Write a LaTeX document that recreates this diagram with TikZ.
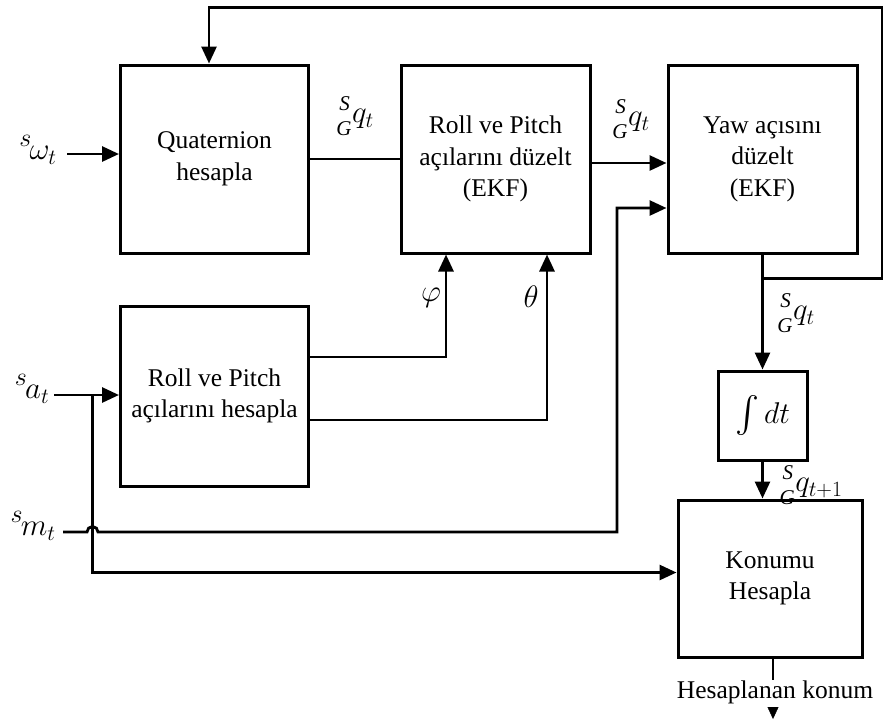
\RequirePackage{fix-cm}
\documentclass[tikz,border=0pt]{standalone}
\usepackage{exscale}
\usepackage{graphicx}
\usepackage{fontspec}
\setmainfont{Liberation Serif}
\usetikzlibrary{arrows.meta}
\newcommand\sgq[1]{{\fontsize{21}{21}\selectfont\itshape\rlap{\kern0.15em\raisebox{0.6em}{S}}\raisebox{-0.6em}{G}}\kern0.02em$q_{#1}$}
\newcommand\inp[1]{$\raisebox{0.42em}{\fontsize{26}{26}\selectfont$s$}\mkern-1mu#1$}
\begin{document}
\begin{tikzpicture}[x=1pt,y=-1pt,
  blk/.style={draw,line width=3pt,minimum width=188pt,minimum height=188pt,align=center,inner sep=0pt,font=\fontsize{25.5}{31.5}\selectfont},
  wire/.style={line width=2.8pt},
  arr/.style={wire,-{Triangle[length=17pt,width=15pt]}},
  lbl/.style={inner sep=0pt,font=\fontsize{25.5}{31}\selectfont},
  mlbl/.style={inner sep=0pt,font=\fontsize{31}{35}\selectfont}]
\useasboundingbox (0,0) rectangle (884,724);
% blocks
\node[blk] (quat) at (214.5,159) {Quaternion\\hesapla};
\node[blk,minimum width=189pt] (rpekf) at (495.5,159) {Roll ve Pitch\\açılarını düzelt\\(EKF)};
\node[blk,minimum width=189pt] (yaw) at (762.5,159) {Yaw açısını\\düzelt\\(EKF)};
\node[blk,minimum height=180pt] (rph) at (214.5,396) {Roll ve Pitch\\açılarını hesapla};
\node[blk,minimum width=89pt,minimum height=89pt,font=\fontsize{30}{34}\selectfont] (integ) at (762.5,415.5) {$\vcenter{\hbox{\scalebox{1.45}{$\int$}}}\,dt$};
\node[blk,minimum width=184pt,minimum height=157pt] (konum) at (770,578.5) {Konumu\\Hesapla};
% inputs
\coordinate (sw) at (67,154);
\coordinate (sa) at (54,395);
\coordinate (br) at (92.5,395);
\coordinate (sm) at (63,532);
\node[mlbl] (lw) at (38,150) {\inp{\omega_{t}}};
\node[mlbl] (la) at (32,389) {\inp{a_{t}}};
\node[mlbl] (lm) at (33,526) {\inp{m_{t}}};
\draw[arr] (sw) -- (sw -| quat.west);
\draw[arr] (sa) -- (sa -| rph.west);
\draw[arr] (br) |- ([yshift=6pt]konum.west);
\draw[arr] (sm) -- (87,532) arc[start angle=180,end angle=0,radius=5.5pt] -- (617,532) |- ([yshift=-49pt]yaw.west);
% main chain
\draw[wire] (quat.east) -- (rpekf.west);
\draw[arr] ([yshift=-4pt]rpekf.east) -- ([yshift=-4pt]yaw.west);
\draw[arr] ([yshift=39pt]rph.east) -| ([xshift=-49.5pt]rpekf.south);
\draw[arr] ([yshift=-24pt]rph.east) -| ([xshift=51.5pt]rpekf.south);
\draw[arr] (yaw.south) -- (integ.north);
\draw[arr] ([yshift=-24pt]yaw.south) -- ++(119.5,0) -- ++(0,-271) -| ([xshift=-5.5pt]quat.north);
\draw[arr] (integ.south) -- (integ.south |- konum.north);
% output
\node[lbl] (out) at (775,692) {Hesaplanan konum};
\draw[wire] ([xshift=3pt]konum.south) -- ++(0,21);
\draw[-{Triangle[length=12pt,width=11pt]}] (773,707) -- (773,719);
% labels
\node[mlbl] (q1) at (355,116) {\sgq{t}};
\node[mlbl] (q2) at (631,119) {\sgq{t}};
\node[mlbl] (q3) at (796,313) {\sgq{t}};
\node[mlbl] (q4) at (811,485) {\sgq{t+1}};
\node[mlbl] (phi) at (431,298) {$\varphi$};
\node[mlbl] (th) at (531,297) {$\theta$};
\end{tikzpicture}
\end{document}
